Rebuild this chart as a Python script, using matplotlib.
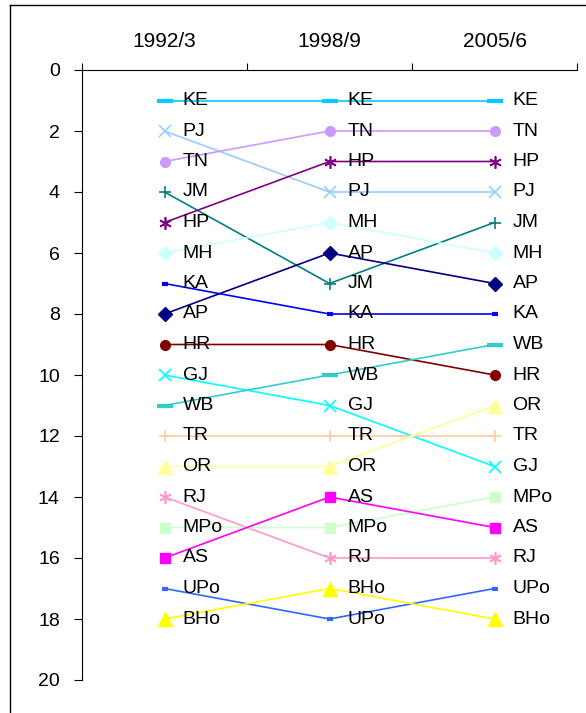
import matplotlib.pyplot as plt
from matplotlib.lines import Line2D

periods = ["1992/3", "1998/9", "2005/6"]
states = ["KE", "PJ", "TN", "JM", "HP", "MH", "KA", "AP", "HR",
          "GJ", "WB", "TR", "OR", "RJ", "MPo", "AS", "UPo", "BHo"]
ranks = {
    "KE": [1, 1, 1],
    "PJ": [2, 4, 4],
    "TN": [3, 2, 2],
    "JM": [4, 7, 5],
    "HP": [5, 3, 3],
    "MH": [6, 5, 6],
    "KA": [7, 8, 8],
    "AP": [8, 6, 7],
    "HR": [9, 9, 10],
    "GJ": [10, 11, 13],
    "WB": [11, 10, 9],
    "TR": [12, 12, 12],
    "OR": [13, 13, 11],
    "RJ": [14, 16, 16],
    "MPo": [15, 15, 14],
    "AS": [16, 14, 15],
    "UPo": [17, 18, 17],
    "BHo": [18, 17, 18],
}

asterisk = (6, 2, 0)
# colour, marker, marker size, marker edge width
styles = {
    "KE": ("#00CCFF", "_", 11, 3),
    "PJ": ("#99CCFF", "x", 8, 1.2),
    "TN": ("#CC99FF", "o", 7, 1),
    "JM": ("#008080", "+", 8, 1.2),
    "HP": ("#800080", asterisk, 9, 1.2),
    "MH": ("#CCFFFF", "D", 7, 1),
    "KA": ("#0000FF", "_", 5, 3),
    "AP": ("#000080", "D", 7, 1),
    "HR": ("#800000", "o", 7, 1),
    "GJ": ("#00FFFF", "x", 8, 1.2),
    "WB": ("#33CCCC", "_", 11, 3),
    "TR": ("#FFCC99", "+", 9, 1.2),
    "OR": ("#FFFF99", "^", 10, 1),
    "RJ": ("#FF99CC", asterisk, 9, 1.2),
    "MPo": ("#CCFFCC", "s", 7.5, 1),
    "AS": ("#FF00FF", "s", 7.5, 1),
    "UPo": ("#3366FF", "_", 5, 3),
    "BHo": ("#FFFF00", "^", 10, 1),
}

fig = plt.figure(figsize=(5.86, 7.13), dpi=100)
ax = fig.add_axes([82 / 586, 1 - 680 / 713, (577 - 82) / 586, 610 / 713])

xs = [0.5, 1.5, 2.5]
for s in states:
    color, marker, ms, mew = styles[s]
    ax.plot(xs, ranks[s], color=color, lw=1.2, marker=marker, ms=ms,
            mew=mew, mfc=color, mec=color)
    for x, r in zip(xs, ranks[s]):
        ax.annotate(s, (x, r), xytext=(13, 0), textcoords="offset points",
                    va="center", ha="left", fontsize=14, family="Liberation Sans")

ax.set_xlim(0, 3)
ax.set_ylim(20, 0)
ax.set_yticks(range(0, 21, 2))
ax.xaxis.tick_top()
ax.set_xticks([0, 1, 2, 3])
ax.set_xticklabels([])
ax.set_xticks(xs, minor=True)
ax.set_xticklabels(periods, minor=True, fontsize=15, family="Liberation Sans")
ax.tick_params(axis="x", which="minor", length=0, pad=14)
ax.tick_params(axis="x", which="major", length=5, width=0.8, direction="out")
ax.tick_params(axis="y", length=6, width=0.8, direction="out", pad=10)
for lbl in ax.get_yticklabels():
    lbl.set_fontsize(14)
    lbl.set_family("Liberation Sans")
for side in ["right", "bottom"]:
    ax.spines[side].set_visible(False)
ax.spines["top"].set_linewidth(0.8)
ax.spines["left"].set_linewidth(0.8)

# outer chart frame (partially cut off in the original)
fig.add_artist(Line2D([10 / 586, 1], [1 - 5 / 713, 1 - 5 / 713], color="black", lw=1))
fig.add_artist(Line2D([10 / 586, 10 / 586], [0, 1 - 5 / 713], color="black", lw=1))

plt.savefig("out.png", dpi=100)
